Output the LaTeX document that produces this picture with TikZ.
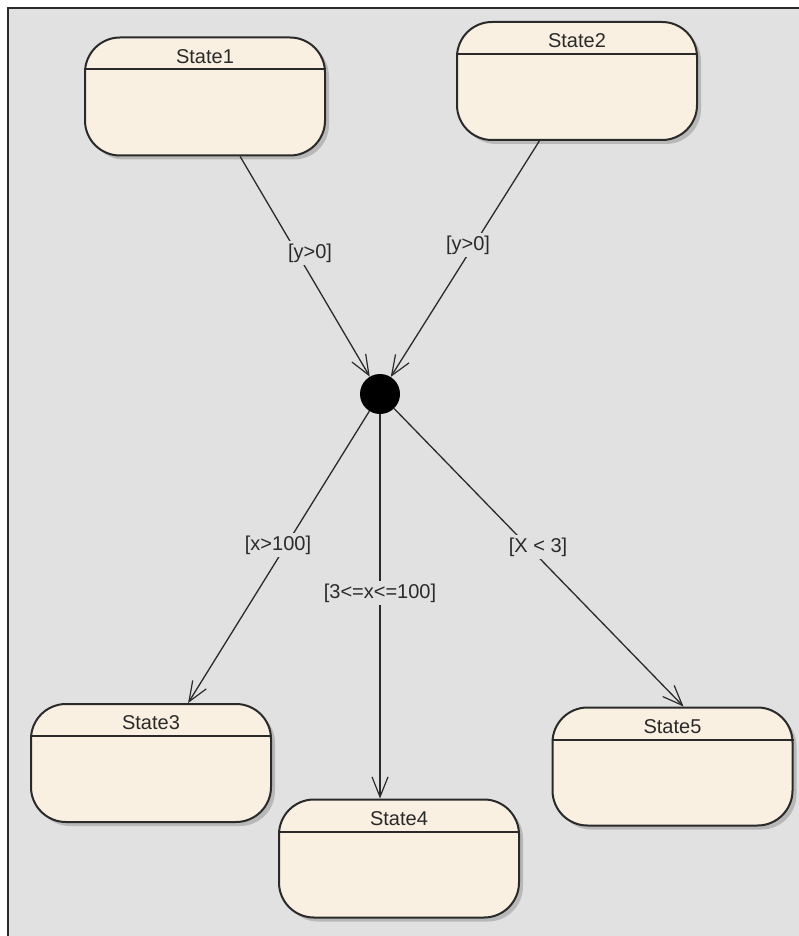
\documentclass[tikz,border=0pt]{standalone}
\usepackage{fontspec}
\setmainfont{Liberation Sans}
\usetikzlibrary{arrows.meta,shadows,calc}
\definecolor{bg}{HTML}{E1E1E1}
\definecolor{cream}{HTML}{FAF0E2}
\definecolor{ink}{HTML}{2A2A2A}
\begin{document}
\begin{tikzpicture}[x=1pt,y=-1pt,
  statebox/.style={draw=ink, line width=2pt, fill=cream, rounded corners=35pt,
    minimum width=240pt, minimum height=118pt, inner sep=0pt,
    drop shadow={shadow xshift=4pt, shadow yshift=-4pt, fill=black!28, opacity=1}},
  titletext/.style={font=\fontsize{20}{24}\selectfont, text=ink, inner sep=0pt},
  guard/.style={font=\fontsize{20}{24}\selectfont, text=ink, fill=bg, inner sep=3pt},
  trans/.style={draw=ink, line width=1.3pt,
    -{Straight Barb[length=20pt,width=16pt,line width=1.2pt]}},
  junction/.style={circle, fill=black, minimum size=40pt, inner sep=0pt}
]
\useasboundingbox (0,0) rectangle (799,936);
\fill[white] (0,0) rectangle (799,936);
\fill[bg] (8,8) rectangle (799,936);
\draw[ink, line width=2pt] (8,936) -- (8,8) -- (799,8);

\node[statebox] (s1) at (205,96.5) {};
\node[statebox] (s2) at (577,81) {};
\node[statebox] (s3) at (151,763) {};
\node[statebox] (s4) at (399,858.5) {};
\node[statebox] (s5) at (672.5,766.5) {};

\foreach \s/\t in {s1/State1, s2/State2, s3/State3, s4/State4, s5/State5}{
  \node[titletext] (\s-title) at ($(\s.north)+(0,20)$) {\t};
  \draw[ink, line width=2pt] ($(\s.north west)+(0,33)$) -- ($(\s.north east)+(0,33)$);
}

\node[junction] (j) at (380,394) {};

\draw[trans] (s1) -- (j);
\draw[trans] (s2) -- (j);
\draw[trans] (j) -- (s3);
\draw[trans] (j) -- (j |- s4.north);
\draw[trans] (j) -- ([xshift=11pt]s5.north);

\node[guard] (l1) at (310,253) {[y>0]};
\node[guard] (l2) at (468,245) {[y>0]};
\node[guard] (l3) at (278,545) {[x>100]};
\node[guard] (l4) at (380,593) {[3<=x<=100]};
\node[guard] (l5) at (538,547) {[X < 3]};
\end{tikzpicture}
\end{document}
